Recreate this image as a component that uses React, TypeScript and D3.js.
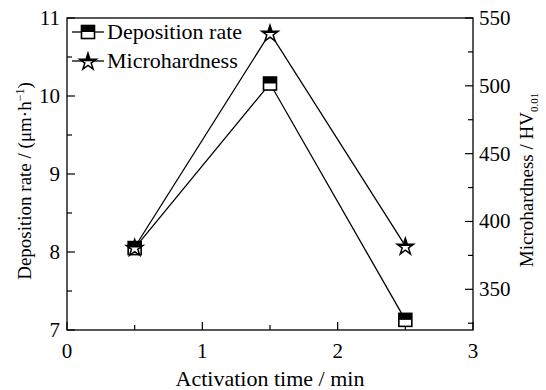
import React, { useEffect, useRef } from "react";
import * as d3 from "d3";

const activationTime = [0.5, 1.5, 2.5];
const depositionRate = [8.05, 10.16, 7.13];
const microhardness = [381, 539, 382];
const xTicks = [0, 1, 2, 3];
const leftTicks = [7, 8, 9, 10, 11];
const rightTicks = [350, 400, 450, 500, 550];

function App() {
  const ref = useRef<SVGSVGElement>(null);

  useEffect(() => {
    const width = 546;
    const height = 390;
    const margin = { top: 18, right: 73, bottom: 60, left: 67 };
    const font = "'Liberation Serif', 'Times New Roman', serif";

    const svg = d3.select(ref.current);
    svg.selectAll("*").remove();

    const x = d3.scaleLinear().domain([0, 3]).range([margin.left, width - margin.right]);
    const yL = d3.scaleLinear().domain([7, 11]).range([height - margin.bottom, margin.top]);
    const yR = d3.scaleLinear().domain([320, 550]).range([height - margin.bottom, margin.top]);

    const x0 = margin.left;
    const x1 = width - margin.right;
    const y0 = height - margin.bottom;
    const y1 = margin.top;

    // clip for half-filled markers
    svg
      .append("defs")
      .append("clipPath")
      .attr("id", "tophalf")
      .attr("clipPathUnits", "objectBoundingBox")
      .append("rect")
      .attr("x", 0)
      .attr("y", 0)
      .attr("width", 1)
      .attr("height", 0.5);

    // frame
    svg
      .append("rect")
      .attr("x", x0)
      .attr("y", y1)
      .attr("width", x1 - x0)
      .attr("height", y0 - y1)
      .attr("fill", "none")
      .attr("stroke", "#000")
      .attr("stroke-width", 1.3);

    const major = 8;
    const minor = 5;

    // bottom ticks
    const xMinor = d3.range(0, 3.01, 0.5);
    svg
      .append("g")
      .selectAll("line")
      .data(xMinor)
      .join("line")
      .attr("x1", d => x(d))
      .attr("x2", d => x(d))
      .attr("y1", y0)
      .attr("y2", d => y0 - (Number.isInteger(d) ? major : minor))
      .attr("stroke", "#000")
      .attr("stroke-width", 1.2);
    svg
      .append("g")
      .selectAll("text")
      .data(xTicks)
      .join("text")
      .attr("x", d => x(d))
      .attr("y", y0 + 28)
      .attr("text-anchor", "middle")
      .attr("font-family", font)
      .attr("font-size", 21)
      .text(d => d);

    // left ticks
    const lMinor = d3.range(7, 11.01, 0.5);
    svg
      .append("g")
      .selectAll("line")
      .data(lMinor)
      .join("line")
      .attr("x1", x0)
      .attr("x2", d => x0 + (Number.isInteger(d) ? major : minor))
      .attr("y1", d => yL(d))
      .attr("y2", d => yL(d))
      .attr("stroke", "#000")
      .attr("stroke-width", 1.2);
    svg
      .append("g")
      .selectAll("text")
      .data(leftTicks)
      .join("text")
      .attr("x", x0 - 7)
      .attr("y", d => yL(d) + 7)
      .attr("text-anchor", "end")
      .attr("font-family", font)
      .attr("font-size", 21)
      .text(d => d);

    // right ticks
    const rMinor = d3.range(325, 551, 25);
    svg
      .append("g")
      .selectAll("line")
      .data(rMinor)
      .join("line")
      .attr("x1", x1)
      .attr("x2", d => x1 - (d % 50 === 0 ? major : minor))
      .attr("y1", d => yR(d))
      .attr("y2", d => yR(d))
      .attr("stroke", "#000")
      .attr("stroke-width", 1.2);
    svg
      .append("g")
      .selectAll("text")
      .data(rightTicks)
      .join("text")
      .attr("x", x1 + 6)
      .attr("y", d => yR(d) + 7)
      .attr("text-anchor", "start")
      .attr("font-family", font)
      .attr("font-size", 21)
      .text(d => d);

    // axis titles
    svg
      .append("text")
      .attr("x", 270)
      .attr("y", height - 4)
      .attr("text-anchor", "middle")
      .attr("font-family", font)
      .attr("font-size", 22)
      .text("Activation time / min");

    const lt = svg
      .append("text")
      .attr("transform", `translate(31,${181}) rotate(-90)`)
      .attr("text-anchor", "middle")
      .attr("font-family", font)
      .attr("font-size", 19);
    lt.append("tspan").text("Deposition rate / (μm·h");
    lt.append("tspan").attr("font-size", 12).attr("dy", -7).text("−1");
    lt.append("tspan").attr("dy", 7).text(")");

    const rt = svg
      .append("text")
      .attr("transform", `translate(533,${180}) rotate(-90)`)
      .attr("text-anchor", "middle")
      .attr("font-family", font)
      .attr("font-size", 19);
    rt.append("tspan").text("Microhardness / HV");
    rt.append("tspan").attr("font-size", 11).attr("dy", 5).text("0.01");

    // lines
    const lineL = d3.line<number>().x((d, i) => x(activationTime[i])).y(d => yL(d));
    const lineR = d3.line<number>().x((d, i) => x(activationTime[i])).y(d => yR(d));
    svg
      .append("path")
      .attr("d", lineR(microhardness))
      .attr("fill", "none")
      .attr("stroke", "#000")
      .attr("stroke-width", 1.3);
    svg
      .append("path")
      .attr("d", lineL(depositionRate))
      .attr("fill", "none")
      .attr("stroke", "#000")
      .attr("stroke-width", 1.3);

    const starPath = d3.symbol().type(d3.symbolStar).size(85)();

    const drawSquare = (g: any, cx: number, cy: number) => {
      const s = 13;
      g.append("rect")
        .attr("x", cx - s / 2)
        .attr("y", cy - s / 2)
        .attr("width", s)
        .attr("height", s)
        .attr("fill", "#fff")
        .attr("stroke", "#000")
        .attr("stroke-width", 1.6);
      g.append("rect")
        .attr("x", cx - s / 2)
        .attr("y", cy - s / 2)
        .attr("width", s)
        .attr("height", s / 2)
        .attr("fill", "#000");
    };

    const drawStar = (g: any, cx: number, cy: number) => {
      const sg = g.append("g").attr("transform", `translate(${cx},${cy + 1})`);
      sg.append("path")
        .attr("d", starPath)
        .attr("fill", "#fff")
        .attr("stroke", "#000")
        .attr("stroke-width", 1.5);
      sg.append("path")
        .attr("d", starPath)
        .attr("fill", "#000")
        .attr("clip-path", "url(#tophalf)");
    };

    const markers = svg.append("g");
    depositionRate.forEach((v, i) => drawSquare(markers, x(activationTime[i]), yL(v)));
    microhardness.forEach((v, i) => drawStar(markers, x(activationTime[i]), yR(v)));

    // legend
    const leg = svg.append("g");
    const rows = [
      { label: "Deposition rate", y: 32, kind: "square" },
      { label: "Microhardness", y: 61, kind: "star" }
    ];
    rows.forEach(r => {
      leg
        .append("line")
        .attr("x1", 72)
        .attr("x2", 104)
        .attr("y1", r.y)
        .attr("y2", r.y)
        .attr("stroke", "#000")
        .attr("stroke-width", 1.3);
      if (r.kind === "square") drawSquare(leg, 88, r.y);
      else drawStar(leg, 88, r.y);
      leg
        .append("text")
        .attr("x", 107)
        .attr("y", r.y + 7)
        .attr("font-family", font)
        .attr("font-size", 22)
        .text(r.label);
    });
  }, []);

  return (
    <svg
      ref={ref}
      width={546}
      height={390}
      style={{ position: "absolute", left: 0, top: 0, background: "#fff" }}
    ></svg>
  );
}

export default App;
